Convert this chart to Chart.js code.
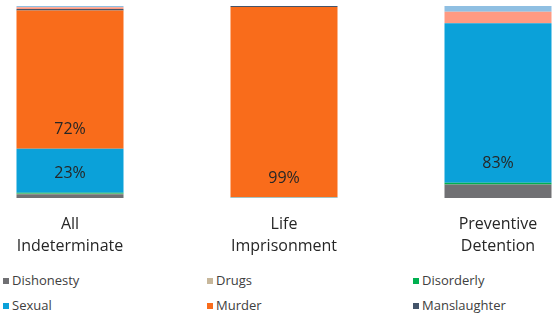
<!DOCTYPE html>
<html>
<head>
<meta charset="utf-8">
<script src="https://cdn.jsdelivr.net/npm/chart.js@4"></script>
<style>
  html, body { margin: 0; padding: 0; background: #fff; }
  #wrap { position: relative; width: 552px; height: 316px; overflow: hidden; }
  #myChart { position: absolute; left: -37px; top: 0; }
  .leg { position: absolute; font: 13px "Open Sans", sans-serif; color: #404040; white-space: nowrap; }
  .leg span { display: inline-block; width: 6px; height: 6px; margin-right: 3px; vertical-align: 1px; }
</style>
</head>
<body>
<div id="wrap">
  <canvas id="myChart" width="642" height="264"></canvas>
  <div id="legend"></div>
</div>
<script>
const categories = [['All', 'Indeterminate'], ['Life', 'Imprisonment'], ['Preventive', 'Detention']];

const dishonesty = [2, 0, 7];
const drugs = [0.2, 0.3, 0];
const disorderly = [0.5, 0, 1];
const sexual = [23, 0.2, 83];
const murder = [72, 99, 0];
const manslaughter = [0.7, 0.5, 0];
const otherViolent = [0.9, 0, 6];
const other = [0.7, 0, 3];

const ctx = document.getElementById('myChart');

const series = [
  { label: 'Dishonesty', data: dishonesty, backgroundColor: '#707073' },
  { label: 'Drugs', data: drugs, backgroundColor: '#c7b79b' },
  { label: 'Disorderly', data: disorderly, backgroundColor: '#00b050' },
  { label: 'Sexual', data: sexual, backgroundColor: '#0ba1d9' },
  { label: 'Murder', data: murder, backgroundColor: '#f96c1b' },
  { label: 'Manslaughter', data: manslaughter, backgroundColor: '#44546a' },
  { label: 'Other violent', data: otherViolent, backgroundColor: '#ff9a82', hideLegend: true },
  { label: 'Other', data: other, backgroundColor: '#8fbfe2', hideLegend: true }
];

// percent labels near the base of the big segments
const pctLabels = {
  id: 'pctLabels',
  afterDatasetsDraw(chart) {
    const c = chart.ctx;
    c.save();
    c.font = '16px "Open Sans", sans-serif';
    c.fillStyle = '#262626';
    c.textAlign = 'center';
    c.textBaseline = 'middle';
    chart.data.datasets.forEach((ds, i) => {
      chart.getDatasetMeta(i).data.forEach((bar, j) => {
        const v = ds.data[j];
        if (v >= 20) c.fillText(Math.round(v) + '%', bar.x, bar.base - 19);
      });
    });
    c.restore();
  }
};

const chart = new Chart(ctx, {
  type: 'bar',
  data: {
    labels: categories,
    datasets: series.map(s => ({
      label: s.label,
      data: s.data,
      backgroundColor: s.backgroundColor,
      borderWidth: 0,
      barPercentage: 1,
      categoryPercentage: 0.5
    }))
  },
  options: {
    responsive: false,
    animation: false,
    layout: { padding: { top: 6, left: 0, right: 0, bottom: 0 } },
    plugins: { legend: { display: false }, tooltip: { enabled: false } },
    scales: {
      x: {
        stacked: true,
        grid: { display: false },
        border: { display: false },
        ticks: {
          color: '#262626',
          padding: 7,
          font: { family: 'Open Sans', size: 16, lineHeight: 1.375 }
        }
      },
      y: { stacked: true, display: false, min: 0, max: 100 }
    }
  },
  plugins: [pctLabels]
});

// legend grid like the original
const legendPos = [[3, 280], [207, 280], [413, 280], [3, 305], [207, 305], [413, 305]];
const legend = document.getElementById('legend');
series.filter(s => !s.hideLegend).forEach((s, i) => {
  const d = document.createElement('div');
  d.className = 'leg';
  d.style.left = legendPos[i][0] + 'px';
  d.style.top = (legendPos[i][1] - 9) + 'px';
  d.innerHTML = '<span style="background:' + s.backgroundColor + '"></span>' + s.label;
  legend.appendChild(d);
});
</script>
</body>
</html>
